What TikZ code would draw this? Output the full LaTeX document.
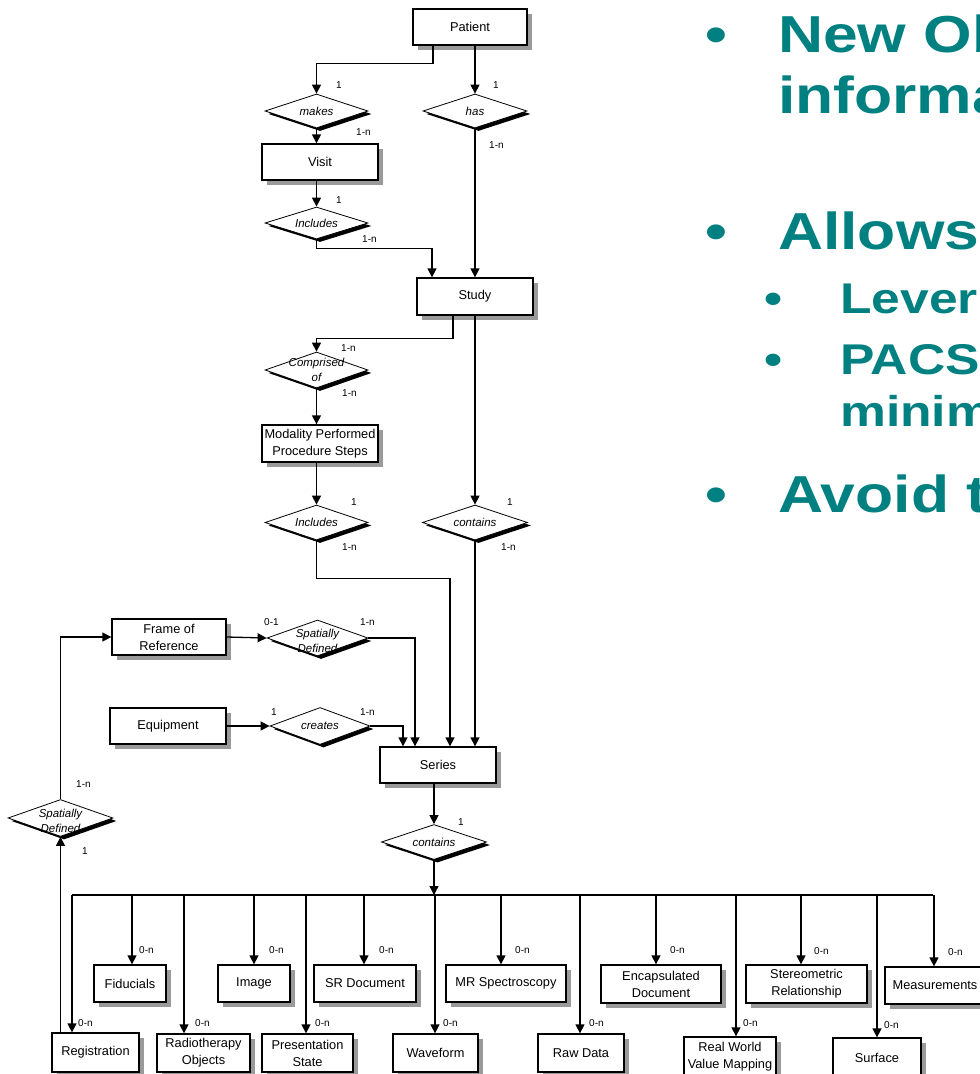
\documentclass[tikz,border=0pt]{standalone}
\usepackage{fontspec}
\setmainfont{Liberation Sans}
\usetikzlibrary{arrows.meta,shapes.geometric,shadows,calc}
\definecolor{slideteal}{HTML}{008080}
\definecolor{shadowgrey}{HTML}{9A9A9A}
\begin{document}
\begin{tikzpicture}[x=1pt,y=-1pt,
  box/.style={draw, line width=1.3pt, fill=white, inner sep=2pt, align=center,
    font=\fontsize{12.8}{17}\selectfont,
    general shadow={fill=shadowgrey, shadow xshift=5pt, shadow yshift=-5pt}},
  diam/.style={diamond, draw, line width=0.8pt, fill=white, inner sep=0pt,
    general shadow={fill=black, shadow xshift=3.5pt, shadow yshift=-3pt}},
  dtext/.style={font=\fontsize{11.5}{15}\selectfont\itshape, align=center, inner sep=0pt},
  lab/.style={font=\fontsize{10}{12}\selectfont, anchor=west, inner sep=0pt},
  arr/.style={line width=1.3pt, -{Triangle[length=9pt,width=9pt]}},
  ln/.style={line width=1.3pt},
  bigtxt/.style={anchor=base west, inner sep=0pt, text=slideteal, font=\fontsize{52}{52}\selectfont\bfseries},
  subtxt/.style={anchor=base west, inner sep=0pt, text=slideteal, font=\fontsize{43}{43}\selectfont\bfseries},
  bigbul/.style={anchor=base, inner sep=0pt, text=slideteal, font=\fontsize{52}{52}\selectfont\bfseries},
  subbul/.style={anchor=base, inner sep=0pt, text=slideteal, font=\fontsize{43}{43}\selectfont\bfseries}
]
\useasboundingbox (0,0) rectangle (980,1074);
\clip (0,0) rectangle (980,1074);

% ---------- entity boxes ----------
\node[box, minimum width=114pt, minimum height=36pt] (patient) at (470,27) {Patient};
\node[box, minimum width=116pt, minimum height=36pt] (visit) at (320,162) {Visit};
\node[box, minimum width=116pt, minimum height=37pt] (study) at (475,296.5) {Study};
\node[box, minimum width=116pt, minimum height=37pt] (mpps) at (320,443.5) {Modality Performed\\Procedure Steps};
\node[box, minimum width=114pt, minimum height=36pt] (for) at (169,637) {Frame of\\Reference};
\node[box, minimum width=116pt, minimum height=36pt] (equip) at (168,726) {Equipment};
\node[box, minimum width=116pt, minimum height=36pt] (series) at (438,765) {Series};

\node[box, minimum width=72pt, minimum height=37pt] (fid) at (130,983.5) {Fiducials};
\node[box, minimum width=72pt, minimum height=37pt] (image) at (254,983.5) {Image};
\node[box, minimum width=102pt, minimum height=37pt] (sr) at (365,983.5) {SR Document};
\node[box, minimum width=120pt, minimum height=37pt] (mrs) at (506,983.5) {MR Spectroscopy};
\node[box, minimum width=120pt, minimum height=38pt] (encap) at (661,984) {Encapsulated\\Document};
\node[box, minimum width=121pt, minimum height=38pt] (stereo) at (806.5,984) {Stereometric\\Relationship};
\node[box, minimum width=100pt, minimum height=37pt] (meas) at (935,985.5) {Measurements};

\node[box, minimum width=87pt, minimum height=39pt] (reg) at (95.5,1052.5) {Registration};
\node[box, minimum width=93pt, minimum height=38pt] (rt) at (203.5,1053) {Radiotherapy\\Objects};
\node[box, minimum width=91pt, minimum height=38pt] (ps) at (307.5,1053) {Presentation\\State};
\node[box, minimum width=85pt, minimum height=38pt] (wave) at (435.5,1053) {Waveform};
\node[box, minimum width=86pt, minimum height=38pt] (raw) at (581,1053) {Raw Data};
\node[box, minimum width=92pt, minimum height=39pt] (rwvm) at (730,1056.5) {Real World\\Value Mapping};
\node[box, minimum width=88pt, minimum height=39pt] (surf) at (877,1057.5) {Surface};

% ---------- relationship diamonds ----------
\node[diam, minimum width=103pt, minimum height=34pt] (makes) at (316.5,111) {};
\node[diam, minimum width=104pt, minimum height=34pt] (has) at (475,111) {};
\node[diam, minimum width=103pt, minimum height=32pt] (incl) at (316.5,223) {};
\node[diam, minimum width=103pt, minimum height=36pt] (comp) at (316.5,370) {};
\node[diam, minimum width=103pt, minimum height=35pt] (incl2) at (316.5,522.5) {};
\node[diam, minimum width=105pt, minimum height=35pt] (cont) at (475,522.5) {};
\node[diam, minimum width=101pt, minimum height=36pt] (sd1) at (317.5,638) {};
\node[diam, minimum width=100pt, minimum height=37pt] (creates) at (320,726) {};
\node[diam, minimum width=105pt, minimum height=35pt] (cont2) at (434,842) {};
\node[diam, minimum width=105pt, minimum height=37pt] (sd2) at (60.5,818) {};

\node[dtext] (makest) at (makes) {makes};
\node[dtext] (hast) at (has) {has};
\node[dtext] (inclt) at (incl) {Includes};
\node[dtext] (compt) at (comp) {Comprised\\of};
\node[dtext] (incl2t) at (incl2) {Includes};
\node[dtext] (contt) at (cont) {contains};
\node[dtext, yshift=-3pt] (sd1t) at (sd1) {Spatially\\Defined};
\node[dtext] (createst) at (creates) {creates};
\node[dtext] (cont2t) at (cont2) {contains};
\node[dtext, yshift=-3pt] (sd2t) at (sd2) {Spatially\\Defined};

% ---------- connectors (upper part) ----------
\draw[arr] ([xshift=-37pt]patient.south) -- ++(0,18) -| (makes.north);
\draw[arr] (has.north |- patient.south) -- (has.north);
\draw[arr] (makes.south) -- (makes.south |- visit.north);
\draw[arr] (incl.north |- visit.south) -- (incl.north);
\draw[arr] (incl.south) -- ++(0,9) -| ([xshift=-43pt]study.north);
\draw[arr] (has.south) -- (has.south |- study.north);
\draw[arr] ([xshift=-22pt]study.south) -- ++(0,23) -| (comp.north);
\draw[arr] (comp.south) -- (comp.south |- mpps.north);
\draw[arr] (incl2.north |- mpps.south) -- (incl2.north);
\draw[arr] (cont.north |- study.south) -- (cont.north);
\draw[arr] (incl2.south) -- ++(0,38) -| ([xshift=12pt]series.north);
\draw[arr] (cont.south) -- (cont.south |- series.north);
\draw[arr] (for.east) -- (sd1.west);
\draw[arr] (sd1.east) -| ([xshift=-23pt]series.north);
\draw[arr] (equip.east) -- (creates.west);
\draw[arr] (creates.east) -| ([xshift=-35pt]series.north);
\draw[arr] (cont2.north |- series.south) -- (cont2.north);
\draw[arr] (sd2.north) |- (for.west);
\draw[arr] (sd2.south |- reg.north) -- (sd2.south);

% ---------- bus ----------
\coordinate (bus) at (434,895);
\coordinate (busL) at (72,895);
\coordinate (busR) at (933,895);
\draw[arr] (cont2.south) -- (cont2.south |- bus);
\draw[ln] (busL) -- (busR);
\draw[arr] ([xshift=-23.5pt]reg.north |- bus) -- ([xshift=-23.5pt]reg.north);
\draw[arr] ([xshift=2pt]fid.north |- bus) -- ([xshift=2pt]fid.north);
\draw[arr] ([xshift=-19.5pt]rt.north |- bus) -- ([xshift=-19.5pt]rt.north);
\draw[arr] (image.north |- bus) -- (image.north);
\draw[arr] ([xshift=-1.5pt]ps.north |- bus) -- ([xshift=-1.5pt]ps.north);
\draw[arr] ([xshift=-1pt]sr.north |- bus) -- ([xshift=-1pt]sr.north);
\draw[arr] ([xshift=-0.5pt]wave.north |- bus) -- ([xshift=-0.5pt]wave.north);
\draw[arr] ([xshift=-5pt]mrs.north |- bus) -- ([xshift=-5pt]mrs.north);
\draw[arr] ([xshift=-1pt]raw.north |- bus) -- ([xshift=-1pt]raw.north);
\draw[arr] ([xshift=-5pt]encap.north |- bus) -- ([xshift=-5pt]encap.north);
\draw[arr] ([xshift=6pt]rwvm.north |- bus) -- ([xshift=6pt]rwvm.north);
\draw[arr] ([xshift=-5.5pt]stereo.north |- bus) -- ([xshift=-5.5pt]stereo.north);
\draw[arr] (surf.north |- bus) -- (surf.north);
\draw[arr] ([xshift=-1pt]meas.north |- bus) -- ([xshift=-1pt]meas.north);

% ---------- cardinality labels ----------
\node[lab] (l1) at (336,85) {1};
\node[lab] (l2) at (493,85) {1};
\node[lab] (l3) at (356,132) {1-n};
\node[lab] (l4) at (489,145) {1-n};
\node[lab] (l5) at (336,200) {1};
\node[lab] (l6) at (362,239) {1-n};
\node[lab] (l7) at (341,348) {1-n};
\node[lab] (l8) at (342,393) {1-n};
\node[lab] (l9) at (351,502) {1};
\node[lab] (l10) at (342,547) {1-n};
\node[lab] (l11) at (507,502) {1};
\node[lab] (l12) at (501,547) {1-n};
\node[lab] (l13) at (264,622) {0-1};
\node[lab] (l14) at (360,622) {1-n};
\node[lab] (l15) at (271,712) {1};
\node[lab] (l16) at (360,712) {1-n};
\node[lab] (l17) at (458,822) {1};
\node[lab] (l18) at (76,784) {1-n};
\node[lab] (l19) at (82,851) {1};
\node[lab] (c1) at (78,1023) {0-n};
\node[lab] (c2) at (139,950) {0-n};
\node[lab] (c3) at (195,1023) {0-n};
\node[lab] (c4) at (269,950) {0-n};
\node[lab] (c5) at (315,1023) {0-n};
\node[lab] (c6) at (379,950) {0-n};
\node[lab] (c7) at (443,1023) {0-n};
\node[lab] (c8) at (515,950) {0-n};
\node[lab] (c9) at (589,1023) {0-n};
\node[lab] (c10) at (670,950) {0-n};
\node[lab] (c11) at (743,1023) {0-n};
\node[lab] (c12) at (814,951) {0-n};
\node[lab] (c13) at (884,1025) {0-n};
\node[lab] (c14) at (948,952) {0-n};

% ---------- slide text (clipped at right edge, as in the reference) ----------
\node[bigbul] (b1) at (716,52) {\scalebox{1.2}[1]{•}};
\node[bigtxt] (t1) at (778,52) {\scalebox{1.2}[1]{New Ob}};
\node[bigtxt] (t2) at (778,113) {\scalebox{1.2}[1]{informa}};
\node[bigbul] (b2) at (716,249) {\scalebox{1.2}[1]{•}};
\node[bigtxt] (t3) at (778,249) {\scalebox{1.2}[1]{Allows}};
\node[subbul] (b3) at (774,313) {\scalebox{1.2}[1]{•}};
\node[subtxt] (t4) at (840,313) {\scalebox{1.2}[1]{Lever}};
\node[subbul] (b4) at (774,374) {\scalebox{1.2}[1]{•}};
\node[subtxt] (t5) at (840,374) {\scalebox{1.2}[1]{PACS}};
\node[subtxt] (t6) at (840,426) {\scalebox{1.2}[1]{minim}};
\node[bigbul] (b5) at (716,512) {\scalebox{1.2}[1]{•}};
\node[bigtxt] (t7) at (778,512) {\scalebox{1.2}[1]{Avoid t}};
\end{tikzpicture}
\end{document}
